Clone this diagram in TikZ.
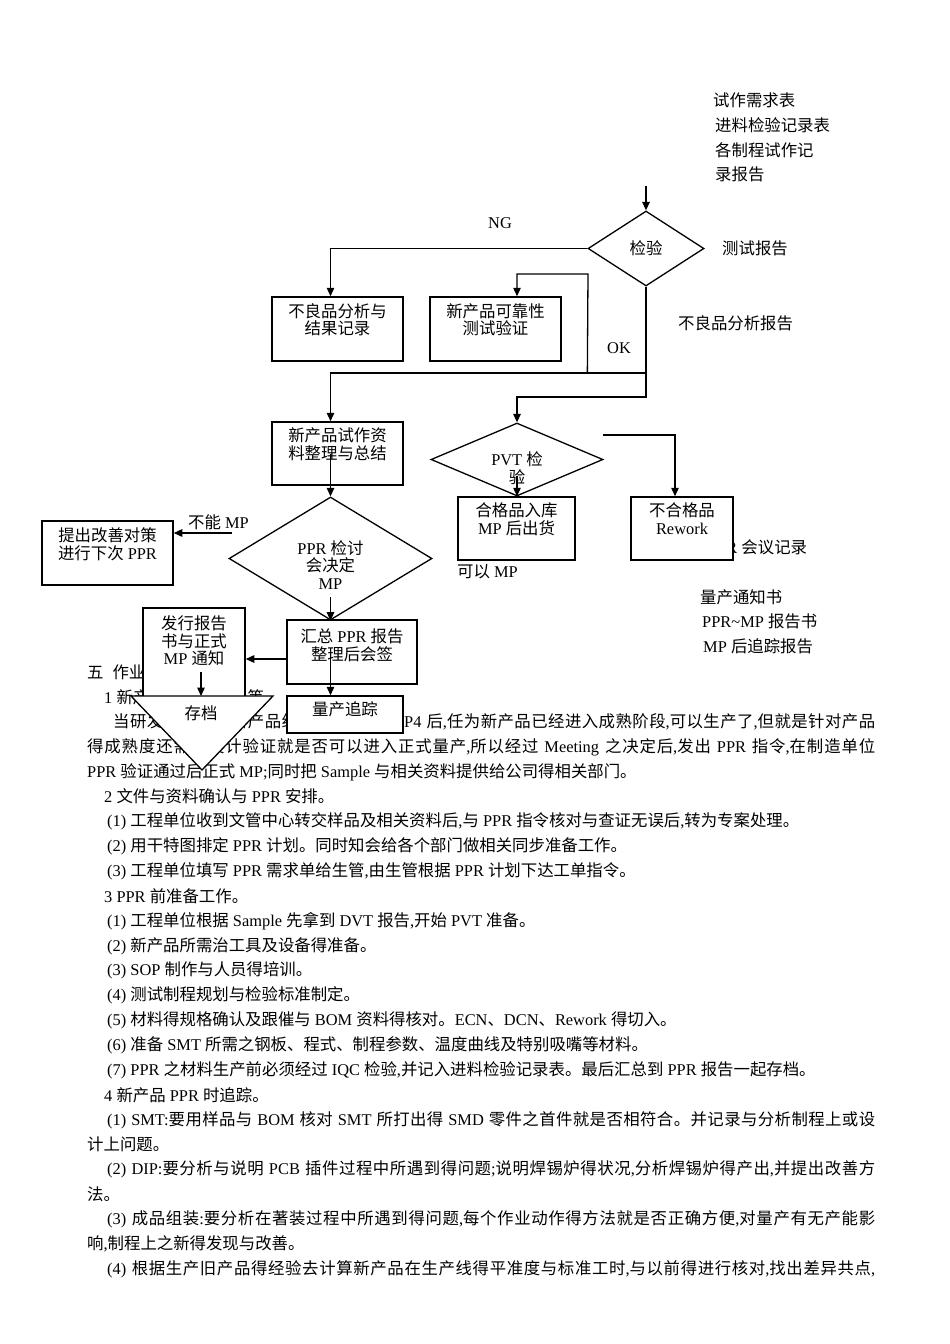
\documentclass[tikz,border=0pt]{standalone}
\usepackage{fontspec}
\setmainfont{Liberation Serif}
\newfontfamily\latinfont{Liberation Serif}
\newfontfamily\cjk{Noto Sans CJK SC}
\usetikzlibrary{arrows.meta, shapes.geometric, calc}

% switch to the CJK font for Han characters and CJK punctuation
\newXeTeXintercharclass\CJKcls
\newcount\cjkc
\newcommand\setcjkrange[2]{%
  \cjkc=#1\relax
  \loop
    \XeTeXcharclass\cjkc=\CJKcls
    \ifnum\cjkc<#2\relax
    \advance\cjkc by 1\relax
  \repeat}
\setcjkrange{"3000}{"303F}
\setcjkrange{"4E00}{"9FFF}
\setcjkrange{"FF00}{"FFEF}
\XeTeXinterchartoks 0 \CJKcls = {\cjk}
\XeTeXinterchartoks 4095 \CJKcls = {\cjk}
\XeTeXinterchartoks \CJKcls 0 = {\latinfont}
\XeTeXinterchartoks \CJKcls 4095 = {\latinfont}
\XeTeXinterchartoks \CJKcls \CJKcls = {\hskip 0pt plus 1pt minus 0.3pt\relax}
\XeTeXinterchartokenstate=1

\newcommand\nodefs{\fontsize{16.4}{17.5}\selectfont}
\newcommand\bodyfs{\fontsize{16.4}{24.9}\selectfont}

\begin{document}
\begin{tikzpicture}[x=1pt, y=-1pt,
  box/.style={rectangle, draw, line width=1.5pt, fill=white, align=center,
              inner sep=0pt, font=\nodefs},
  decision/.style={diamond, draw, line width=1.3pt, fill=white, align=center,
              inner sep=0pt, font=\nodefs},
  note/.style={anchor=west, inner sep=0pt, font=\bodyfs},
  bodyline/.style={anchor=west, inner sep=0pt, font=\bodyfs},
  arrow/.style={-{Triangle[length=8.5pt, width=7.5pt]}, line width=1.3pt},
]
\useasboundingbox (0,0) rectangle (950,1344);

% body text
\node[bodyline] (t0)  at (87,672)  {五\hspace{9pt}作业内容};
\node[bodyline] (t1)  at (104,697) {1 新产品导入及准备等};
\node[bodyline] (t2)  at (113,722) {\makebox[762pt][s]{当研发部门完成新产品组装测试并达到 P4 后,任为新产品已经进入成熟阶段,可以生产了,但就是针对产品}};
\node[bodyline] (t3)  at (87,747)  {\makebox[788pt][s]{得成熟度还需要设计验证就是否可以进入正式量产,所以经过 Meeting 之决定后,发出 PPR 指令,在制造单位}};
\node[bodyline] (t4)  at (87,772)  {PPR 验证通过后正式 MP;同时把 Sample 与相关资料提供给公司得相关部门。};
\node[bodyline] (t5)  at (104,796) {2 文件与资料确认与 PPR 安排。};
\node[bodyline] (t6)  at (107,821) {(1) 工程单位收到文管中心转交样品及相关资料后,与 PPR 指令核对与查证无误后,转为专案处理。};
\node[bodyline] (t7)  at (107,846) {(2) 用干特图排定 PPR 计划。同时知会给各个部门做相关同步准备工作。};
\node[bodyline] (t8)  at (107,871) {(3) 工程单位填写 PPR 需求单给生管,由生管根据 PPR 计划下达工单指令。};
\node[bodyline] (t9)  at (104,896) {3 PPR 前准备工作。};
\node[bodyline] (t10) at (107,921) {(1) 工程单位根据 Sample 先拿到 DVT 报告,开始 PVT 准备。};
\node[bodyline] (t11) at (107,946) {(2) 新产品所需治工具及设备得准备。};
\node[bodyline] (t12) at (107,970) {(3) SOP 制作与人员得培训。};
\node[bodyline] (t13) at (107,995) {(4) 测试制程规划与检验标准制定。};
\node[bodyline] (t14) at (107,1020) {(5) 材料得规格确认及跟催与 BOM 资料得核对。ECN、DCN、Rework 得切入。};
\node[bodyline] (t15) at (107,1045) {(6) 准备 SMT 所需之钢板、程式、制程参数、温度曲线及特别吸嘴等材料。};
\node[bodyline] (t16) at (107,1070) {(7) PPR 之材料生产前必须经过 IQC 检验,并记入进料检验记录表。最后汇总到 PPR 报告一起存档。};
\node[bodyline] (t17) at (104,1095) {4 新产品 PPR 时追踪。};
\node[bodyline] (t18) at (107,1120) {\makebox[768pt][s]{(1) SMT:要用样品与 BOM 核对 SMT 所打出得 SMD 零件之首件就是否相符合。并记录与分析制程上或设}};
\node[bodyline] (t19) at (87,1144) {计上问题。};
\node[bodyline] (t20) at (107,1169) {\makebox[768pt][s]{(2) DIP:要分析与说明 PCB 插件过程中所遇到得问题;说明焊锡炉得状况,分析焊锡炉得产出,并提出改善方}};
\node[bodyline] (t21) at (87,1194) {法。};
\node[bodyline] (t22) at (107,1219) {\makebox[768pt][s]{(3) 成品组装:要分析在著装过程中所遇到得问题,每个作业动作得方法就是否正确方便,对量产有无产能影}};
\node[bodyline] (t23) at (87,1244) {响,制程上之新得发现与改善。};
\node[bodyline] (t24) at (107,1269) {\makebox[768pt][s]{(4) 根据生产旧产品得经验去计算新产品在生产线得平准度与标准工时,与以前得进行核对,找出差异共点,}};

% documents beside the chart
\node[note] (docs1) at (713,100) {试作需求表};
\node[note] (docs2) at (715,125) {进料检验记录表};
\node[note] (docs3) at (715,150) {各制程试作记};
\node[note] (docs4) at (715,174) {录报告};
\node[note] (testrep) at (722,248) {测试报告};
\node[note] (ngrep) at (678,323) {不良品分析报告};
\node[note] (meet) at (708,547) {PPR 会议记录};
\node[note] (canmp) at (457,572) {可以 MP};
\node[note] (mpdoc1) at (700,597) {量产通知书};
\node[note] (mpdoc2) at (702,621) {PPR\textasciitilde MP 报告书};
\node[note] (mpdoc3) at (703,646) {MP 后追踪报告};
\node[note] (nglbl) at (488,223) {NG};
\node[note] (oklbl) at (607,348) {OK};
\node[note] (nomplbl) at (188,522) {不能 MP};

% flow chart
\node[decision, minimum width=116pt, minimum height=75pt] (chk) at (646,248.5) {检验};
\node[box, minimum width=131pt, minimum height=64pt] (ngbox) at (337.5,329) {不良品分析与\\结果记录\\[2.5pt]\mbox{}};
\node[box, minimum width=131pt, minimum height=64pt] (relbox) at (495.5,329) {新产品可靠性\\测试验证\\[2.5pt]\mbox{}};
\node[box, minimum width=131pt, minimum height=63pt] (summ) at (337.5,453.5) {新产品试作资\\料整理与总结\\[2.5pt]\mbox{}};
\node[decision, aspect=2.3, minimum width=172pt, minimum height=73pt] (pvt) at (517,459.5) {\mbox{}\\[13.5pt]PVT 检\\验};
\node[box, minimum width=117pt, minimum height=63pt] (pass) at (516.5,528.5) {合格品入库\\MP 后出货\\[2.5pt]\mbox{}};
\node[box, minimum width=102pt, minimum height=63pt] (fail) at (682,528.5) {不合格品\\Rework\\[2.5pt]\mbox{}};
\node[decision, aspect=1.6, minimum width=203pt, minimum height=123pt] (ppr) at (330.5,558.5) {\mbox{}\\[8.5pt]PPR 检讨\\会决定\\MP};
\node[box, minimum width=131pt, minimum height=64pt] (improve) at (107.5,553) {提出改善对策\\进行下次 PPR\\[1.5pt]\mbox{}};
\node[box, minimum width=130pt, minimum height=64pt] (sign) at (352,652) {汇总 PPR 报告\\整理后会签\\[-2.5pt]\mbox{}};
\node[box, minimum width=102pt, minimum height=90pt] (issue) at (194,653) {发行报告\\书与正式\\MP 通知\\[7.5pt]\mbox{}};
\node[box, minimum width=116pt, minimum height=37pt] (track) at (345,714.5) {量产追踪\\[-5.5pt]\mbox{}};
\draw[line width=1.3pt, fill=white] (131,696) -- (273,696) -- (202,770) -- cycle;
\node[inner sep=0pt, font=\nodefs] (archive) at (201,713) {存档};

\coordinate (in) at (646,186);
\coordinate (okj) at (646,373);
\coordinate (pvtj) at (646,397);
\coordinate (relj) at (588,274);
\coordinate (pvtin) at (517,476);
\coordinate (pvtr) at (603,435);
\coordinate (failx) at (675,0);
\coordinate (pprin) at (330.5,597);
\coordinate (nomp) at (232,533);
\coordinate (hlev) at (0,659);
\coordinate (issin) at (201,672);
\coordinate (arctop) at (201,696);

\draw[arrow] (in) -- (chk.north);
\draw[arrow] (chk.west) -| (ngbox.north -| ppr.north);
\draw[arrow] (chk.south) -- (pvtj) -| (pvt.north);
\draw[arrow] (okj) -| (summ.north -| ppr.north);
\draw[arrow] (okj -| chk.west) -- (relj) -| (relbox.north -| pvt.north);
\draw[arrow] (summ.center -| ppr.north) -- (ppr.north);
\draw[arrow] (pvtin) -- (pass.north -| pvt.north);
\draw[arrow] (pvtr) -| (fail.north -| failx);
\draw[arrow] (pprin) -- (ppr.south);
\draw[arrow] (nomp) -- (nomp -| improve.east);
\draw[arrow] (sign.west |- hlev) -- (issue.east |- hlev);
\draw[arrow] (sign.center -| ppr.north) -- (track.north -| ppr.north);
\draw[arrow] (issin) -- (arctop);
\end{tikzpicture}
\end{document}
